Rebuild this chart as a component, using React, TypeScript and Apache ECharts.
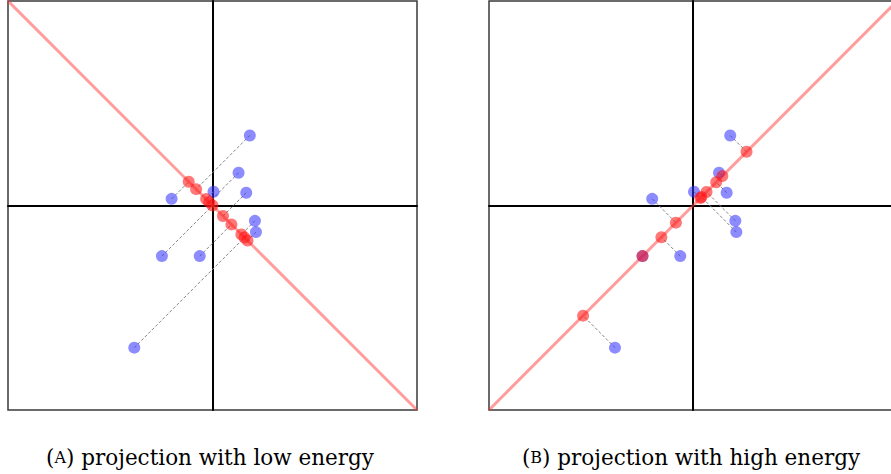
import React, { useEffect, useRef } from "react";
import * as echarts from "echarts";

// Original points (same in both panels)
const pointX = [0.73, 0.51, 0.66, 0.02, -0.8, 0.83, 0.85, -0.99, -0.25, -1.53];
const pointY = [1.37, 0.64, 0.25, 0.27, 0.13, -0.3, -0.52, -0.99, -0.99, -2.78];
// Projections onto y = -x (panel A): point (t, -t)
const projLow = [-0.32, -0.065, 0.205, -0.125, -0.465, 0.565, 0.685, 0.0, 0.37, 0.625];
// Projections onto y = x (panel B): point (s, s)
const projHigh = [1.05, 0.575, 0.455, 0.145, -0.335, 0.265, 0.165, -0.99, -0.62, -2.155];
// Direction lines
const lineLow = [[-4, 4], [4, -4]];
const lineHigh = [[-4, -4], [4, 4]];
const captions = ["A", "B"];
const captionText = ["projection with low energy", "projection with high energy"];

const BLUE = "rgba(50,50,255,0.7)";
const RED = "rgba(255,20,20,0.72)";

function axisPair(idx: number) {
  return {
    type: "value",
    gridIndex: idx,
    min: -4,
    max: 4,
    axisLine: { show: true, onZero: true, lineStyle: { color: "#000", width: 2 } },
    axisTick: { show: false },
    axisLabel: { show: false },
    splitLine: { show: false },
  };
}

export default function App() {
  const ref = useRef<HTMLDivElement>(null);
  useEffect(() => {
    if (!ref.current) return;
    const chart = echarts.init(ref.current, null, { renderer: "svg" });
    const points = pointX.map((x, i) => [x, pointY[i]]);
    const redLow = projLow.map((t) => [t, -t]);
    const redHigh = projHigh.map((s) => [s, s]);
    const segLow = points.map((p, i) => ({ coords: [p, redLow[i]] }));
    const segHigh = points.map((p, i) => ({ coords: [p, redHigh[i]] }));

    const panelSeries = (idx: number, line: number[][], red: number[][], seg: any[]) => [
      {
        type: "line",
        xAxisIndex: idx,
        yAxisIndex: idx,
        data: line,
        symbol: "none",
        lineStyle: { color: "rgba(255,60,60,0.5)", width: 3 },
        z: 1,
        silent: true,
      },
      {
        type: "lines",
        coordinateSystem: "cartesian2d",
        xAxisIndex: idx,
        yAxisIndex: idx,
        data: seg,
        lineStyle: { color: "#858585", width: 1, type: [3, 2], opacity: 1 },
        z: 2,
        silent: true,
      },
      {
        type: "scatter",
        xAxisIndex: idx,
        yAxisIndex: idx,
        data: points,
        symbolSize: 12,
        itemStyle: { color: BLUE },
        z: 3,
      },
      {
        type: "scatter",
        xAxisIndex: idx,
        yAxisIndex: idx,
        data: red,
        symbolSize: 12,
        itemStyle: { color: RED },
        z: 4,
      },
    ];

    const capFont = '"DejaVu Serif", "Liberation Serif", serif';
    const makeCaption = (cx: number, letter: string, text: string) => ({
      type: "text",
      x: cx,
      y: 457,
      style: {
        text: `{p|(}{c|${letter}}{p|) ${text}}`,
        align: "center",
        verticalAlign: "middle",
        rich: {
          p: { fontSize: 21.5, fontFamily: capFont, fill: "#000" },
          c: { fontSize: 16, fontFamily: capFont, fill: "#000" },
        },
      },
    });

    chart.setOption({
      animation: false,
      backgroundColor: "#fff",
      grid: [
        { left: 8, top: 1, width: 409, height: 409, show: true, borderColor: "#3a3a3a", borderWidth: 1.5, backgroundColor: "transparent" },
        { left: 489, top: 1, width: 408, height: 409, show: true, borderColor: "#3a3a3a", borderWidth: 1.5, backgroundColor: "transparent" },
      ],
      xAxis: [axisPair(0), axisPair(1)],
      yAxis: [axisPair(0), axisPair(1)],
      series: [
        ...panelSeries(0, lineLow, redLow, segLow),
        ...panelSeries(1, lineHigh, redHigh, segHigh),
      ],
      graphic: [
        makeCaption(210, captions[0], captionText[0]),
        makeCaption(691, captions[1], captionText[1]),
      ],
    });
    return () => chart.dispose();
  }, []);
  return (
    <div style={{ position: "fixed", left: 0, top: 0, width: 891, height: 474, overflow: "hidden", background: "#fff" }}>
      <div ref={ref} style={{ width: 905, height: 474 }} />
    </div>
  );
}
